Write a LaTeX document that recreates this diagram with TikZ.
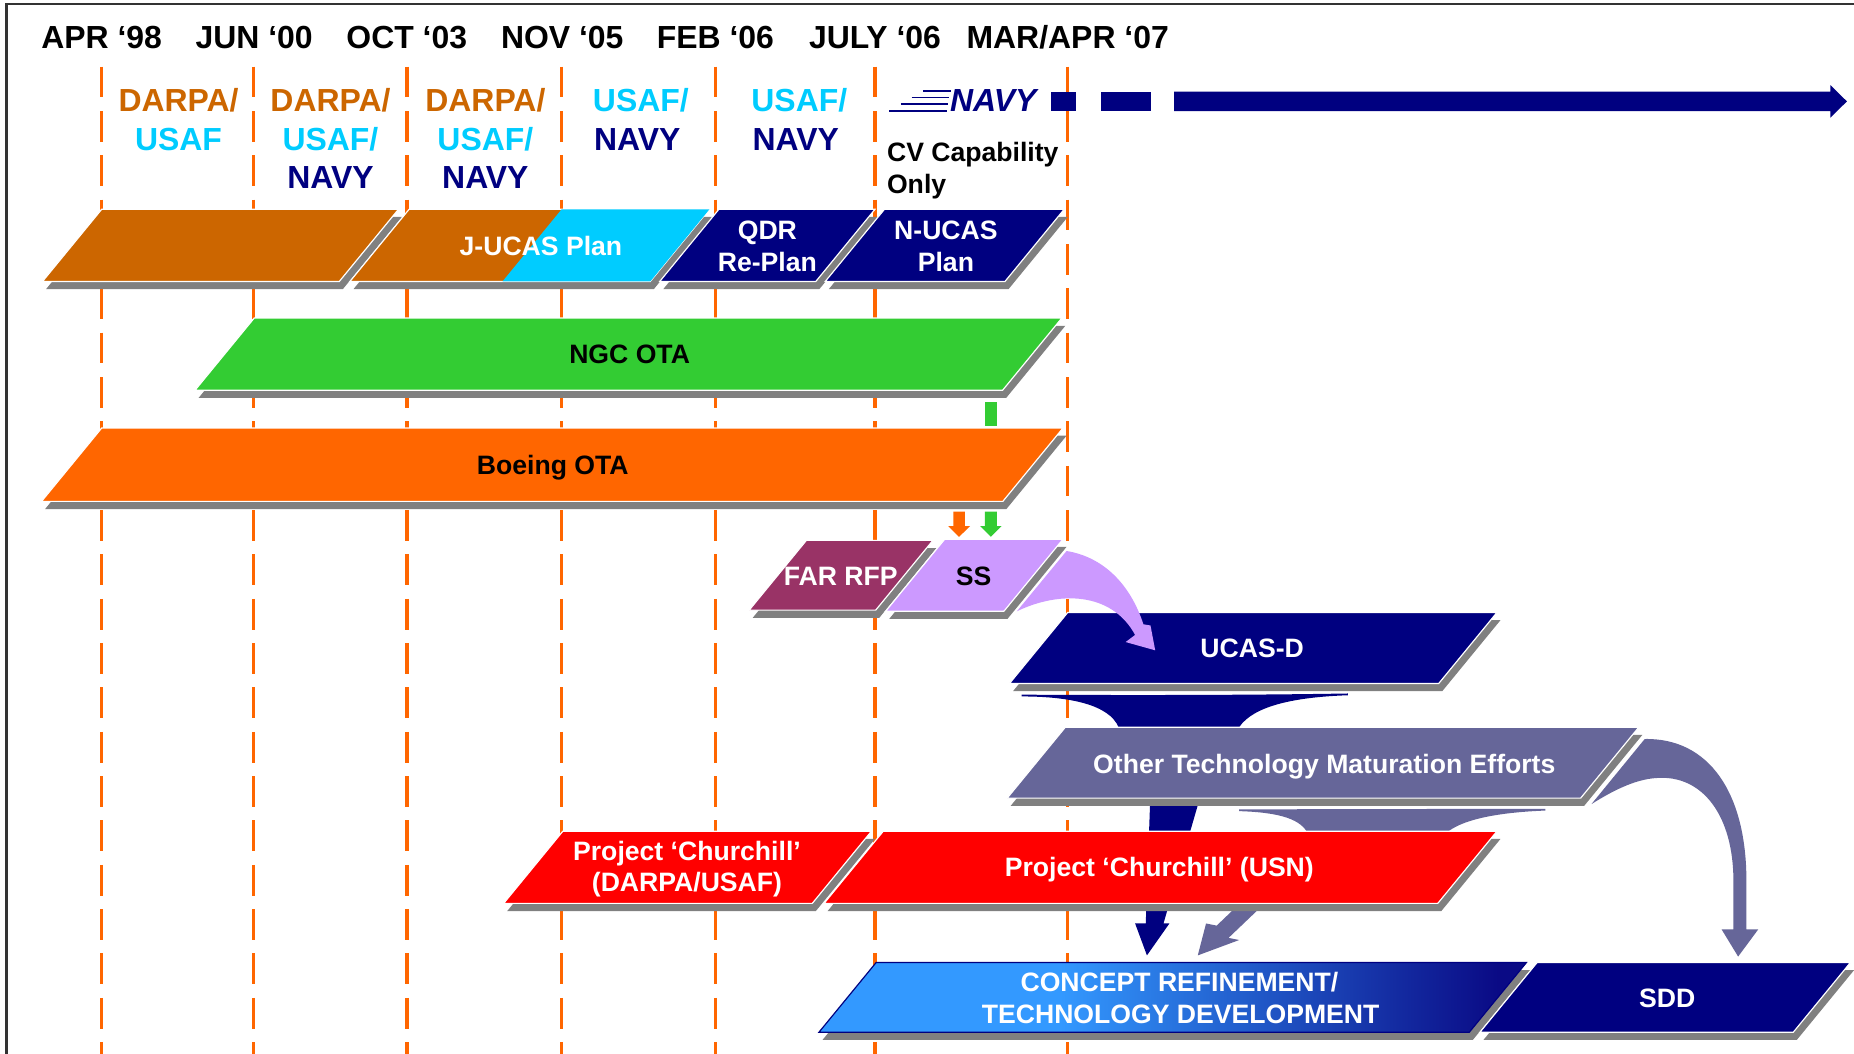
\documentclass[tikz,border=0pt]{standalone}
\usepackage{fontspec}
\setmainfont{Liberation Sans}
\definecolor{cbrown}{HTML}{CC6600}
\definecolor{ccyan}{HTML}{00CCFF}
\definecolor{cnavy}{HTML}{000080}
\definecolor{cgreen}{HTML}{33CC33}
\definecolor{corange}{HTML}{FF6600}
\definecolor{cmaroon}{HTML}{993366}
\definecolor{clav}{HTML}{CC99FF}
\definecolor{cslate}{HTML}{666699}
\definecolor{cred}{HTML}{FF0000}
\definecolor{shgray}{HTML}{808080}
\definecolor{cblue}{HTML}{3399FF}
\definecolor{cdark}{HTML}{0A0A85}
\pgfdeclarehorizontalshading{crshade}{100bp}{color(0bp)=(cblue); color(42bp)=(cblue); color(73bp)=(cdark); color(100bp)=(cdark)}
\tikzset{
  hdr/.style={font=\fontsize{27}{30}\selectfont\bfseries, anchor=base, inner sep=0pt},
  btxt/.style={font=\fontsize{22.5}{26}\selectfont\bfseries, anchor=base, inner sep=0pt, text=white},
  tline/.style={draw=corange, line width=3pt, dash pattern=on 26pt off 11.5pt},
  barline/.style={draw=white, line width=1pt},
  speed/.style={draw=cnavy, line width=1.6pt},
}
% name, x top-left, x top-right, y top, y bottom, path options
\newcommand{\pbar}[6]{%
  \pgfmathsetmacro{\pbs}{0.82*(#5-#4)}%
  \fill[shgray] ({#2+3},{#4+6.5}) -- ({#3+3},{#4+6.5}) -- ({#3-\pbs+3},{#5+6.5}) -- ({#2-\pbs+3},{#5+6.5}) -- cycle;
  \path[#6] (#2,#4) -- (#3,#4) -- ({#3-\pbs},#5) -- ({#2-\pbs},#5) -- cycle;
  \coordinate (#1) at ({(#2+#3-\pbs)/2},{(#4+#5)/2});
}
\begin{document}
\begin{tikzpicture}[x=1pt,y=-1pt]
\useasboundingbox (0,0) rectangle (1568,891);
\fill[white] (0,0) rectangle (1568,891);
\coordinate (fa) at (5.5,891);
\coordinate (fb) at (5.5,3.5);
\coordinate (fc) at (1568,3.5);
\draw[line width=2pt, black!80] (fa) -- (fb) -- (fc);

% time lines
\foreach \xx/\nm in {86/t1,214.5/t2,344/t3,475/t4,605/t5,740/t6,903/t7}{
  \coordinate (\nm a) at (\xx,56.4);
  \coordinate (\nm b) at (\xx,891);
  \draw[tline] (\nm a) -- (\nm b);
}

% headers
\node[hdr] (d1) at (86,41.4) {APR ‘98};
\node[hdr] (d2) at (215,41.4) {JUN ‘00};
\node[hdr] (d3) at (344,41.4) {OCT ‘03};
\node[hdr] (d4) at (475.5,41.4) {NOV ‘05};
\node[hdr] (d5) at (605,41.4) {FEB ‘06};
\node[hdr] (d6) at (740,41.4) {JULY ‘06};
\node[hdr] (d7) at (903,41.4) {MAR/APR ‘07};

% column labels
\node[hdr, text=cbrown] (l1a) at (151,94.5) {DARPA/};
\node[hdr, text=ccyan] (l1b) at (151,127.4) {USAF};
\node[hdr, text=cbrown] (l2a) at (279.5,94.5) {DARPA/};
\node[hdr, text=ccyan] (l2b) at (279.5,127.4) {USAF/};
\node[hdr, text=cnavy] (l2c) at (279.5,159.5) {NAVY};
\node[hdr, text=cbrown] (l3a) at (410.5,94.5) {DARPA/};
\node[hdr, text=ccyan] (l3b) at (410.5,127.4) {USAF/};
\node[hdr, text=cnavy] (l3c) at (410.5,159.5) {NAVY};
\node[hdr, text=ccyan] (l4a) at (542,94.5) {USAF/};
\node[hdr, text=cnavy] (l4b) at (539,127.4) {NAVY};
\node[hdr, text=ccyan] (l5a) at (676,94.5) {USAF/};
\node[hdr, text=cnavy] (l5b) at (673,127.4) {NAVY};

% Navy future arrow
\draw[speed] (781,77) -- (804,77);
\draw[speed] (771,82.5) -- (803,82.5);
\draw[speed] (762,88) -- (802,88);
\draw[speed] (752,93.5) -- (801,93.5);
\node[hdr, text=cnavy, font=\fontsize{27}{30}\selectfont\bfseries\itshape] (l6) at (840,94.5) {NAVY};
\fill[cnavy] (888.6,77.5) rectangle (910.3,94);
\fill[cnavy] (931,77.5) rectangle (973.8,94);
\fill[cnavy] (993,77.5) -- (1548,77.5) -- (1548,72) -- (1562,85.75) -- (1548,99.5) -- (1548,94) -- (993,94) -- cycle;
\node[btxt, text=black, anchor=base west] (cv1) at (750,136.7) {CV Capability};
\node[btxt, text=black, anchor=base west] (cv2) at (750,163.5) {Only};

% row 1
\pbar{bA}{86}{337}{177}{238}{fill=cbrown, barline}
\pbar{bJ}{346}{600}{177}{238}{fill=cbrown, barline}
\fill[ccyan] (475,177) -- (600,177) -- (550,238) -- (425,238) -- cycle;
\node[btxt] (tJ) at (457.5,215.7) {J-UCAS Plan};
\pbar{bQ}{608}{740}{177}{238}{fill=cnavy, barline}
\node[btxt] (tQ1) at (649,202.4) {QDR};
\node[btxt] (tQ2) at (649,229.8) {Re-Plan};
\pbar{bN}{748}{900}{177}{238}{fill=cnavy, barline}
\node[btxt] (tN1) at (800,202.4) {N-UCAS};
\node[btxt] (tN2) at (800,229.8) {Plan};

% NGC
\pbar{bNGC}{215}{898}{269}{330}{fill=cgreen, barline}
\node[btxt, text=black] (tNGC) at (532.5,307.5) {NGC OTA};
\fill[cgreen] (833,340) rectangle (843,360);

% Boeing
\pbar{bB}{86}{899}{362}{424}{fill=corange, barline}
\node[btxt, text=black] (tB) at (467.5,401) {Boeing OTA};

% small down arrows
\fill[corange] (806.2,432.7) -- (816.1,432.7) -- (816.1,445) -- (820.4,445) -- (811.1,454) -- (802,445) -- (806.2,445) -- cycle;
\fill[cgreen] (833,432.7) -- (843,432.7) -- (843,445) -- (847,445) -- (838,454) -- (829,445) -- (833,445) -- cycle;

% FAR RFP / SS
\pbar{bF}{682}{789}{457}{516}{fill=cmaroon, barline}
\node[btxt] (tF) at (711,494.8) {FAR RFP};
\pbar{bS}{799}{899}{456}{517}{fill=clav, barline}
\node[btxt, text=black] (tS) at (823.5,494.8) {SS};

% UCAS-D
\pbar{bU}{903}{1266}{518}{578}{fill=cnavy, barline}
\node[btxt] (tU) at (1059,556) {UCAS-D};

% lavender curved arrow
\fill[clav] (902,466) .. controls (933,471) and (956,494) .. (967,528) -- (973,529) -- (977,550) -- (952,543) -- (960,537) .. controls (940,500) and (895,500) .. (860,517) -- cycle;

% navy funnel and arrow
\fill[cnavy] (864,589) .. controls (905,589) and (938,596) .. (946,615) -- (946,625) -- (1048,625) -- (1048,615) .. controls (1060,597) and (1095,589.5) .. (1140,588) -- (1140,586.5) .. controls (1050,588) and (950,588) .. (864,587.5) -- cycle;
\fill[cnavy] (973,670) -- (1013,670) -- (1013,681) -- (984,781) -- (989,781) -- (970,808) -- (960,781) -- (969,781) -- cycle;

% Other technology
\pbar{bO}{901}{1386}{615}{675}{fill=cslate, barline}
\node[btxt] (tO) at (1120,654) {Other Technology Maturation Efforts};

% slate funnel and small arrow
\fill[cslate] (1048,686) .. controls (1080,687) and (1098,692) .. (1105,703) -- (1105,712) -- (1225,712) -- (1225,703) .. controls (1240,692) and (1270,687) .. (1307,685.5) -- (1307,684) -- (1048,684.5) -- cycle;
\fill[cslate] (1082.4,751.8) -- (1039,793.2) -- (1048,795) -- (1013,808) -- (1020,781) -- (1029,782.8) -- (1072.4,741.4) -- cycle;

% big slate arrow to SDD
\fill[cslate] (1391,625) .. controls (1445,624) and (1477,670) .. (1477,745) -- (1477,786) -- (1487,786) -- (1470,809) -- (1456,786) -- (1466,786) -- (1466,745) .. controls (1466,690) and (1440,655) .. (1401,658) .. controls (1382,659) and (1362,670) .. (1346,680) -- cycle;

% Project Churchill
\pbar{bP1}{476}{737}{703}{764}{fill=cred, barline}
\node[btxt] (tP1a) at (581,727.4) {Project ‘Churchill’};
\node[btxt] (tP1b) at (581,754) {(DARPA/USAF)};
\pbar{bP2}{747}{1266}{703}{764}{fill=cred, barline}
\node[btxt] (tP2) at (980.5,741.4) {Project ‘Churchill’ (USN)};

% Concept refinement / SDD
\pbar{bC}{741}{1291}{814}{873}{shade, shading=crshade, draw=cnavy, line width=1pt}
\node[btxt] (tC1) at (997.5,838.7) {CONCEPT REFINEMENT/};
\node[btxt] (tC2) at (998.5,865.5) {TECHNOLOGY DEVELOPMENT};
\pbar{bSDD}{1300}{1565}{814}{873}{fill=cnavy, barline}
\node[btxt] (tSDD) at (1410,852) {SDD};
\end{tikzpicture}
\end{document}
